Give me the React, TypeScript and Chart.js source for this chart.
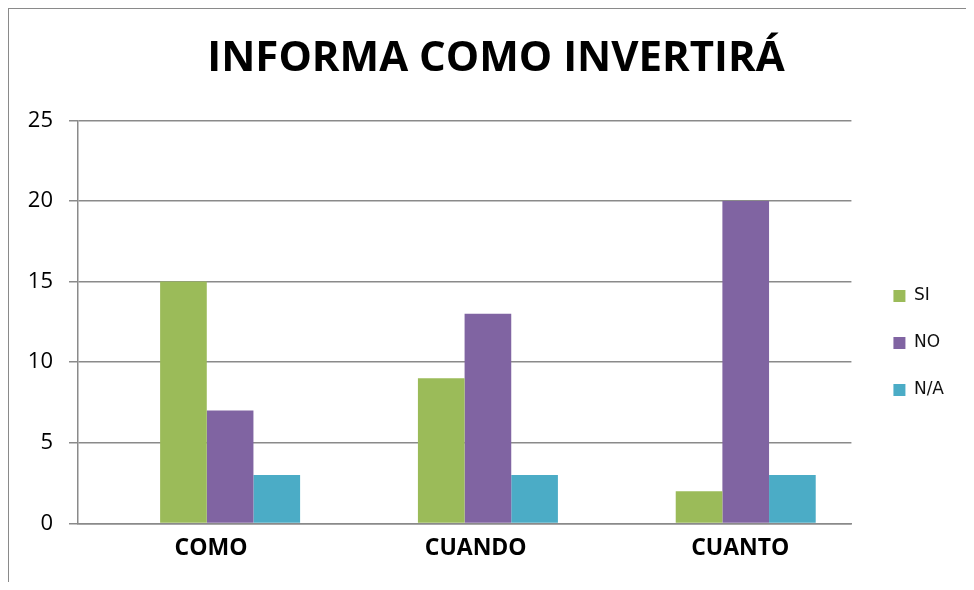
import React, { useEffect, useRef } from "react";
import { Chart, registerables } from "chart.js";

Chart.register(...registerables);

const categories = ["COMO", "CUANDO", "CUANTO"];
const siValues = [15, 9, 2];
const noValues = [7, 13, 20];
const naValues = [3, 3, 3];
const seriesNames = ["SI", "NO", "N/A"];
const seriesColors = ["#9BBB59", "#8064A2", "#4BACC6"];
const titleText = "INFORMA COMO INVERTIRÁ";

const toPoints = (values: number[]) => values.map((v, i) => ({ x: i, y: v }));

export default function App() {
  const ref = useRef<HTMLCanvasElement | null>(null);
  useEffect(() => {
    if (!ref.current) return;
    const chart = new Chart(ref.current, {
      type: "bar",
      data: {
        datasets: [
          { label: seriesNames[0], data: toPoints(siValues), backgroundColor: seriesColors[0], xAxisID: "x" },
          { label: seriesNames[1], data: toPoints(noValues), backgroundColor: seriesColors[1], xAxisID: "x" },
          { label: seriesNames[2], data: toPoints(naValues), backgroundColor: seriesColors[2], xAxisID: "x" },
        ],
      },
      options: {
        animation: false,
        responsive: false,
        layout: { padding: { left: 13, right: 17, top: 0, bottom: 9 } },
        datasets: { bar: { barPercentage: 1, categoryPercentage: 0.543 } },
        plugins: {
          title: {
            display: true,
            text: titleText,
            color: "#000",
            font: { family: "Open Sans", size: 42, weight: "bold" },
            padding: { top: 25, bottom: 36 },
          },
          legend: {
            position: "right",
            title: {
              display: true,
              text: " ",
              font: { size: 10 },
              padding: { top: 92, bottom: 0 },
            },
            labels: {
              boxWidth: 12,
              boxHeight: 12,
              padding: 30,
              color: "#111",
              font: { family: "DejaVu Sans", size: 17 },
            },
          },
          tooltip: { enabled: false },
        },
        scales: {
          x: {
            type: "linear",
            display: false,
            offset: false,
            min: -0.59,
            max: 2.41,
            ticks: { stepSize: 1, includeBounds: false },
            grid: { display: false },
          },
          xl: {
            type: "linear",
            axis: "x",
            position: "bottom",
            offset: false,
            min: -0.503,
            max: 2.42,
            grid: { display: false, drawTicks: false },
            border: { display: true, color: "#8a8a8a", width: 1.5 },
            ticks: {
              stepSize: 1,
              includeBounds: false,
              autoSkip: false,
              maxRotation: 0,
              color: "#000",
              padding: 11,
              font: { family: "Open Sans", size: 23, weight: "bold" },
              callback: (v: any) =>
                Number.isInteger(Number(v)) && categories[Number(v)] !== undefined
                  ? categories[Number(v)]
                  : "",
            },
          },
          y: {
            min: 0,
            max: 25,
            ticks: {
              stepSize: 5,
              color: "#000",
              padding: 16,
              font: { family: "Open Sans", size: 22 },
            },
            grid: { color: "#8a8a8a", lineWidth: 1.5, tickLength: 9, drawTicks: true },
            border: { display: true, color: "#8a8a8a", width: 1.5 },
            afterFit: (s: any) => {
              s.width = 56;
            },
          },
          gapInner: {
            type: "linear",
            position: "right",
            display: true,
            weight: 0,
            grid: { display: false, drawTicks: false },
            border: { display: false },
            ticks: { display: false },
            afterFit: (s: any) => {
              s.width = 12;
            },
          },
          gapOuter: {
            type: "linear",
            position: "right",
            display: true,
            weight: 2000,
            grid: { display: false, drawTicks: false },
            border: { display: false },
            ticks: { display: false },
            afterFit: (s: any) => {
              s.width = 16;
            },
          },
        },
      },
    });
    return () => chart.destroy();
  }, []);
  return (
    <div
      style={{
        borderTop: "1px solid #8a8a8a",
        borderLeft: "1px solid #8a8a8a",
        width: 965,
        height: 573,
        overflow: "hidden",
        background: "#fff",
      }}
    >
      <canvas ref={ref} width={978} height={573} style={{ display: "block" }} />
    </div>
  );
}
